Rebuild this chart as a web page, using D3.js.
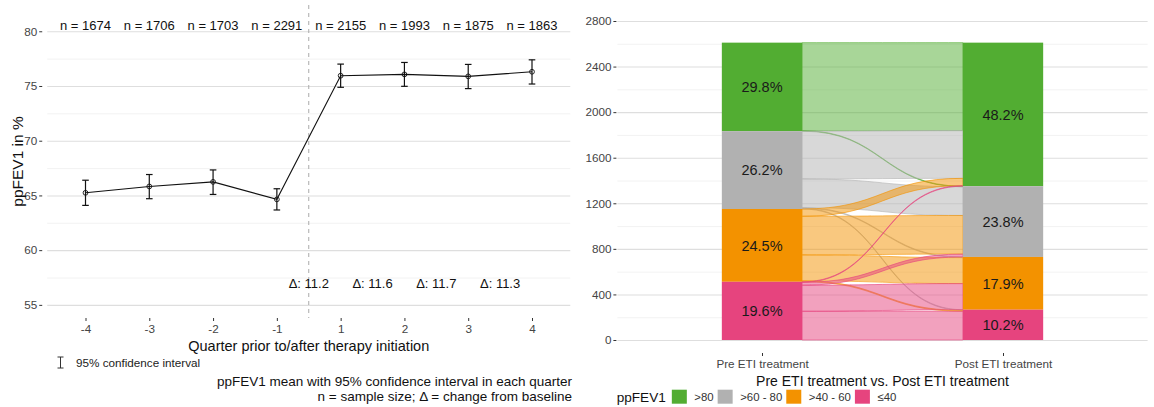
<!DOCTYPE html>
<html>
<head>
<meta charset="utf-8">
<script src="https://cdn.jsdelivr.net/npm/d3@7"></script>
<style>
  body { margin: 0; background: #fff; }
  svg { font-family: "Liberation Sans", Arial, sans-serif; }
  .grid line { stroke: #dedede; stroke-width: 1.1; }
  .grid-minor line { stroke: #efefef; stroke-width: 0.8; }
  .grid path, .grid-minor path { display: none; }
  .axis path { display: none; }
  .axis line { stroke: #333; }
  .axis text { fill: #444; font-size: 11.7px; }
</style>
</head>
<body>
<svg id="chart" width="1154" height="407"></svg>
<script>
// ---- left panel data
const quarters = ["-4", "-3", "-2", "-1", "1", "2", "3", "4"];
const meanFEV = [65.24, 65.82, 66.24, 64.64, 75.94, 76.06, 75.88, 76.30];
const ciLow   = [64.09, 64.70, 65.09, 63.67, 74.88, 74.97, 74.76, 75.18];
const ciHigh  = [66.39, 66.91, 67.33, 65.61, 77.00, 77.15, 76.97, 77.39];
const sampleN = [1674, 1706, 1703, 2291, 2155, 1993, 1875, 1863];
const deltaQuarters = ["1", "2", "3", "4"];
const deltaVals = ["11.2", "11.6", "11.7", "11.3"];
const yTicksL = [55, 60, 65, 70, 75, 80];

// ---- right panel data
const stages = ["Pre ETI treatment", "Post ETI treatment"];
const levels = [">80", ">60 - 80", ">40 - 60", "≤40"];
const levelColors = ["#52ad32", "#b1b1b1", "#f39200", "#e6447e"];
// rows: pre level, cols: post level
const flowCounts = [
  [772, 5, 0, 0],
  [419, 252, 6, 6],
  [64, 339, 228, 8],
  [5, 25, 229, 252]
];
const prePct = ["29.8%", "26.2%", "24.5%", "19.6%"];
const postPct = ["48.2%", "23.8%", "17.9%", "10.2%"];
const yTicksR = [0, 400, 800, 1200, 1600, 2000, 2400, 2800];

const svg = d3.select("#chart");

// ================= LEFT =================
const xL = d3.scalePoint().domain(quarters).range([85.5, 532]);
const yL = d3.scaleLinear().domain([53.8, 82.4]).range([318, 5]);
const stepL = xL.step();
const leftX0 = xL(quarters[0]) - 0.6 * stepL, leftX1 = xL(quarters[7]) + 0.6 * stepL;
const gL = svg.append("g");

const minorL = d3.range(52.5, 83, 5).filter(v => yL(v) > 5 && yL(v) < 318);
gL.append("g").attr("class", "grid-minor")
  .attr("transform", `translate(${leftX0},0)`)
  .call(d3.axisLeft(yL).tickValues(minorL).tickSize(-(leftX1 - leftX0)).tickFormat(""));
gL.append("g").attr("class", "grid")
  .attr("transform", `translate(${leftX0},0)`)
  .call(d3.axisLeft(yL).tickValues(yTicksL).tickSize(-(leftX1 - leftX0)).tickFormat(""));

gL.append("g").attr("class", "axis")
  .attr("transform", `translate(${leftX0 - 5},0)`)
  .call(d3.axisLeft(yL).tickValues(yTicksL).tickSize(3).tickPadding(2));
gL.append("g").attr("class", "axis")
  .attr("transform", `translate(0,318)`)
  .call(d3.axisBottom(xL).tickSize(3).tickPadding(4));

// therapy start line
const splitX = (xL("-1") + xL("1")) / 2;
gL.append("line")
  .attr("x1", splitX).attr("x2", splitX).attr("y1", 5).attr("y2", 318)
  .attr("stroke", "#aaa").attr("stroke-width", 1).attr("stroke-dasharray", "4,4");

const idx = d3.range(quarters.length);
gL.append("path")
  .datum(idx)
  .attr("fill", "none").attr("stroke", "#111").attr("stroke-width", 1.1)
  .attr("d", d3.line().x(i => xL(quarters[i])).y(i => yL(meanFEV[i])));

const eb = gL.selectAll(".eb").data(idx).enter().append("g").attr("class", "eb");
eb.append("line")
  .attr("x1", i => xL(quarters[i])).attr("x2", i => xL(quarters[i]))
  .attr("y1", i => yL(ciLow[i])).attr("y2", i => yL(ciHigh[i]));
eb.append("line")
  .attr("x1", i => xL(quarters[i]) - 3.3).attr("x2", i => xL(quarters[i]) + 3.3)
  .attr("y1", i => yL(ciLow[i])).attr("y2", i => yL(ciLow[i]));
eb.append("line")
  .attr("x1", i => xL(quarters[i]) - 3.3).attr("x2", i => xL(quarters[i]) + 3.3)
  .attr("y1", i => yL(ciHigh[i])).attr("y2", i => yL(ciHigh[i]));
eb.selectAll("line").attr("stroke", "#111").attr("stroke-width", 1.2);
eb.append("circle")
  .attr("cx", i => xL(quarters[i])).attr("cy", i => yL(meanFEV[i])).attr("r", 2.4)
  .attr("fill", "none").attr("stroke", "#111").attr("stroke-width", 0.9);

gL.selectAll(".nlab").data(idx).enter().append("text")
  .attr("x", i => xL(quarters[i])).attr("y", yL(80) - 1)
  .attr("text-anchor", "middle").attr("font-size", 13).attr("fill", "#111")
  .text(i => `n = ${sampleN[i]}`);

gL.selectAll(".dlab").data(deltaQuarters).enter().append("text")
  .attr("x", q => xL(q) - stepL / 2).attr("y", yL(56.5))
  .attr("text-anchor", "middle").attr("font-size", 13).attr("fill", "#111")
  .text((q, i) => `Δ: ${deltaVals[i]}`);

gL.append("text")
  .attr("x", (leftX0 + leftX1) / 2).attr("y", 351)
  .attr("text-anchor", "middle").attr("font-size", 14.5).attr("fill", "#111")
  .text("Quarter prior to/after therapy initiation");
gL.append("text")
  .attr("transform", `translate(23,${(5 + 318) / 2}) rotate(-90)`)
  .attr("text-anchor", "middle").attr("font-size", 15.5).attr("fill", "#111")
  .text("ppFEV1 in %");

// CI key
const key = gL.append("g").attr("stroke", "#333").attr("stroke-width", 1);
key.append("line").attr("x1", 60.5).attr("x2", 60.5).attr("y1", 357).attr("y2", 368);
key.append("line").attr("x1", 57.5).attr("x2", 63.5).attr("y1", 357).attr("y2", 357);
key.append("line").attr("x1", 57.5).attr("x2", 63.5).attr("y1", 368).attr("y2", 368);
gL.append("text").attr("x", 76).attr("y", 366.5).attr("font-size", 11.7).attr("fill", "#222")
  .text("95% confidence interval");

gL.append("text").attr("x", 572).attr("y", 386).attr("text-anchor", "end")
  .attr("font-size", 13.5).attr("fill", "#111")
  .text("ppFEV1 mean with 95% confidence interval in each quarter");
gL.append("text").attr("x", 572).attr("y", 401).attr("text-anchor", "end")
  .attr("font-size", 13.5).attr("fill", "#111")
  .text("n = sample size; Δ = change from baseline");

// ================= RIGHT =================
const xR = d3.scalePoint().domain(stages).range([762, 1003]);
const yR = d3.scaleLinear().domain([0, 2800]).range([340, 21]);
const stepR = xR.step();
const rightX0 = xR(stages[0]) - 0.6 * stepR, rightX1 = xR(stages[1]) + 0.6 * stepR;
const barW = stepR / 3;
const gR = svg.append("g");

gR.append("g").attr("class", "grid-minor")
  .attr("transform", `translate(${rightX0},0)`)
  .call(d3.axisLeft(yR).tickValues(d3.range(200, 2800, 400)).tickSize(-(rightX1 - rightX0)).tickFormat(""));
gR.append("g").attr("class", "grid")
  .attr("transform", `translate(${rightX0},0)`)
  .call(d3.axisLeft(yR).tickValues(yTicksR).tickSize(-(rightX1 - rightX0)).tickFormat(""));
gR.append("g").attr("class", "axis")
  .attr("transform", `translate(${rightX0 - 1},0)`)
  .call(d3.axisLeft(yR).tickValues(yTicksR).tickFormat(d3.format("d")).tickSize(3).tickPadding(2));
gR.append("g").attr("class", "axis")
  .attr("transform", `translate(0,353)`)
  .call(d3.axisBottom(xR).tickSize(3).tickPadding(4));

// stratum sizes
const preSize = flowCounts.map(r => d3.sum(r));
const postSize = levels.map((l, j) => d3.sum(flowCounts, r => r[j]));
function stackTops(sizes) {
  // first level on top
  const tops = [];
  let acc = d3.sum(sizes);
  sizes.forEach(s => { tops.push(acc); acc -= s; });
  return tops;
}
const preTop = stackTops(preSize), postTop = stackTops(postSize);

// lodes
const flows = [];
const postCursor = postTop.slice();
const preCursor = preTop.slice();
for (let i = 0; i < levels.length; i++) {
  for (let j = 0; j < levels.length; j++) {
    const v = flowCounts[i][j];
    const f = { i, j, v, y0t: preCursor[i], y0b: preCursor[i] - v };
    preCursor[i] -= v;
    flows.push(f);
  }
}
// post side: order by pre level within each post stratum
for (let j = 0; j < levels.length; j++) {
  for (let i = 0; i < levels.length; i++) {
    const f = flows.find(d => d.i === i && d.j === j);
    f.y1t = postCursor[j]; f.y1b = postCursor[j] - f.v;
    postCursor[j] -= f.v;
  }
}

const fx0 = xR(stages[0]) + barW / 2, fx1 = xR(stages[1]) - barW / 2, fxm = (fx0 + fx1) / 2;
function flowPath(f) {
  return `M${fx0},${yR(f.y0t)} C${fxm},${yR(f.y0t)} ${fxm},${yR(f.y1t)} ${fx1},${yR(f.y1t)}` +
    ` L${fx1},${yR(f.y1b)} C${fxm},${yR(f.y1b)} ${fxm},${yR(f.y0b)} ${fx0},${yR(f.y0b)} Z`;
}
gR.selectAll(".flow").data(flows.filter(f => f.v > 0)).enter().append("path")
  .attr("d", flowPath)
  .attr("fill", f => levelColors[f.i]).attr("fill-opacity", 0.5)
  .attr("stroke", f => levelColors[f.i]).attr("stroke-opacity", 0.6).attr("stroke-width", 1);

// strata
const strata = [];
levels.forEach((l, k) => {
  strata.push({ stage: stages[0], k, top: preTop[k], size: preSize[k], pct: prePct[k] });
  strata.push({ stage: stages[1], k, top: postTop[k], size: postSize[k], pct: postPct[k] });
});
gR.selectAll(".stratum").data(strata).enter().append("rect")
  .attr("x", d => xR(d.stage) - barW / 2).attr("width", barW)
  .attr("y", d => yR(d.top)).attr("height", d => yR(d.top - d.size) - yR(d.top))
  .attr("fill", d => levelColors[d.k]);
gR.selectAll(".pct").data(strata).enter().append("text")
  .attr("x", d => xR(d.stage)).attr("y", d => yR(d.top - d.size / 2))
  .attr("dy", "0.36em").attr("text-anchor", "middle")
  .attr("font-size", 14.5).attr("fill", "#1a1a1a")
  .text(d => d.pct);

gR.append("text")
  .attr("x", (rightX0 + rightX1) / 2).attr("y", 386)
  .attr("text-anchor", "middle").attr("font-size", 14).attr("fill", "#111")
  .text("Pre ETI treatment vs. Post ETI treatment");

// legend
const leg = gR.append("g").attr("transform", "translate(616.7,396.7)");
const legTitle = leg.append("text").attr("dy", "0.36em").attr("font-size", 13.6).attr("fill", "#111").text("ppFEV1");
let lx = legTitle.node().getComputedTextLength() + 6;
levels.forEach((l, k) => {
  leg.append("rect").attr("x", lx).attr("y", -7).attr("width", 15).attr("height", 14).attr("fill", levelColors[k]);
  const t = leg.append("text").attr("x", lx + 22.5).attr("dy", "0.36em")
    .attr("font-size", 11.4).attr("fill", "#333").text(l);
  lx += 22.5 + t.node().getComputedTextLength() + 4;
});
</script>
</body>
</html>
